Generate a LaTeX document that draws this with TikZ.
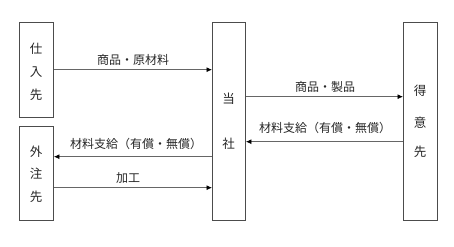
\documentclass[tikz,border=0pt]{standalone}
\usepackage{fontspec}
\newfontfamily\cjk{Noto Sans CJK JP}
\usetikzlibrary{arrows.meta}
\begin{document}
\begin{tikzpicture}[x=1pt,y=-1pt,
  box/.style={draw=black!70,line width=0.9pt},
  boxtext/.style={inner sep=0pt,font=\cjk\fontsize{12.5}{14}\selectfont,text=black!85},
  lbl/.style={inner sep=0pt,font=\cjk\fontsize{12}{14}\selectfont,text=black!85},
  conn/.style={draw=black!60,line width=0.8pt,-{Latex[length=5.5pt,width=5pt,black]}}]
\useasboundingbox (0,0) rectangle (454,246);
% boxes
\node[box,minimum width=34pt,minimum height=95pt,anchor=north west,inner sep=0pt] (sup) at (19,22) {};
\node[box,minimum width=34pt,minimum height=94pt,anchor=north west,inner sep=0pt] (out) at (19,126) {};
\node[box,minimum width=33pt,minimum height=198pt,anchor=north west,inner sep=0pt] (us) at (212,22) {};
\node[box,minimum width=34pt,minimum height=198pt,anchor=north west,inner sep=0pt] (cus) at (403,22) {};
% box texts
\node[boxtext] (s1) at (36,48.3) {仕};
\node[boxtext] (s2) at (36,71.7) {入};
\node[boxtext] (s3) at (36,94.3) {先};
\node[boxtext] (o1) at (36,151.7) {外};
\node[boxtext] (o2) at (36,173.5) {注};
\node[boxtext] (o3) at (36,196.5) {先};
\node[boxtext] (u1) at (228.5,98.3) {当};
\node[boxtext] (u2) at (228.5,143.3) {社};
\node[boxtext] (c1) at (420,91) {得};
\node[boxtext] (c2) at (420,122.5) {意};
\node[boxtext] (c3) at (420,152) {先};
% connector endpoints
\coordinate (a1) at (sup.east |- 0,69.7);
\coordinate (a2) at (us.west |- 0,69.7);
\coordinate (b1) at (us.west |- 0,156.7);
\coordinate (b2) at (out.east |- 0,156.7);
\coordinate (c1a) at (out.east |- 0,187.7);
\coordinate (c2a) at (us.west |- 0,187.7);
\coordinate (d1) at (us.east |- 0,96.7);
\coordinate (d2) at (cus.west |- 0,96.7);
\coordinate (e1) at (cus.west |- 0,141.7);
\coordinate (e2) at (us.east |- 0,141.7);
\draw[conn] (a1) -- (a2);
\draw[conn] (b1) -- (b2);
\draw[conn] (c1a) -- (c2a);
\draw[conn] (d1) -- (d2);
\draw[conn] (e1) -- (e2);
% labels
\node[lbl] (la) at (133,60) {商品・原材料};
\node[lbl] (lb) at (136,143.5) {材料支給（有償・無償）};
\node[lbl] (lc) at (128,178) {加工};
\node[lbl] (ld) at (325,87) {商品・製品};
\node[lbl] (le) at (325,128) {材料支給（有償・無償）};
\end{tikzpicture}
\end{document}
